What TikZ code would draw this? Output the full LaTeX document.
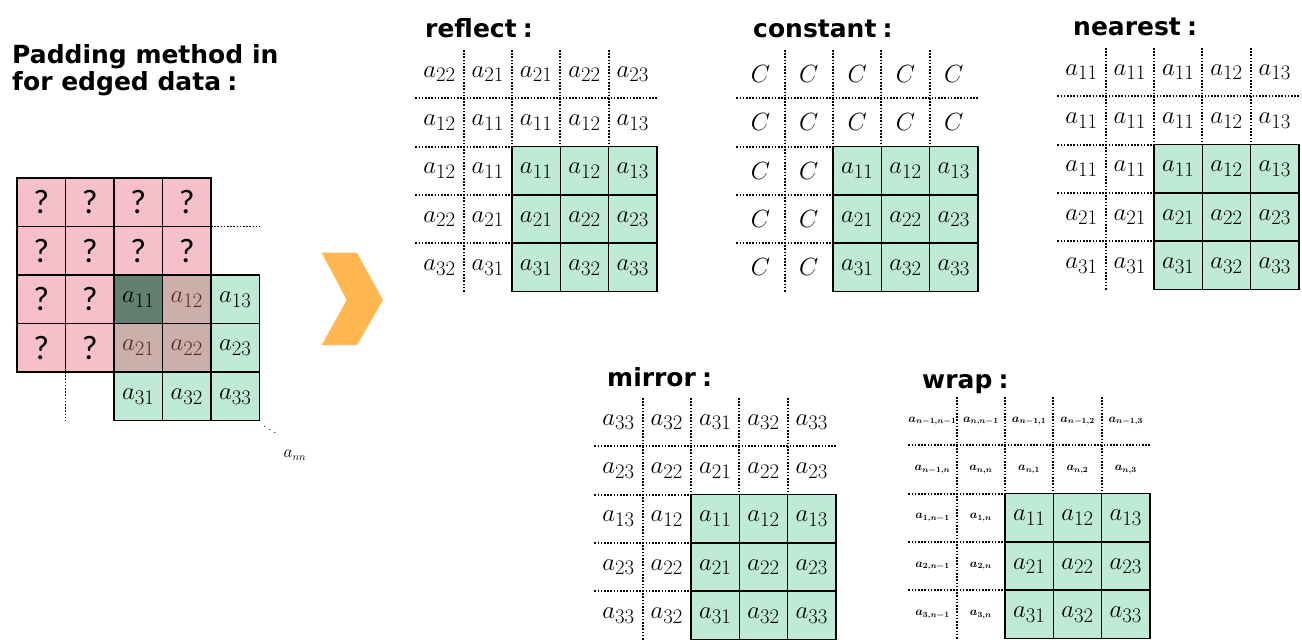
\documentclass[tikz,border=0pt]{standalone}
\usepackage{fontspec}
\usepackage{amsmath}
\newfontfamily\headfont{DejaVu Sans}
\newfontfamily\askfont{Carlito}

\definecolor{cellgreen}{RGB}{190,234,214}
\definecolor{cellpink}{RGB}{246,192,202}
\definecolor{darkcell}{RGB}{98,128,111}
\definecolor{browncell}{RGB}{203,175,171}
\definecolor{browntext}{RGB}{92,42,44}
\definecolor{chevron}{RGB}{255,184,80}

\def\cellsz{48.3}

\tikzset{
  headline/.style={anchor=base west, inner sep=0pt,
    font=\headfont\bfseries\fontsize{25}{28}\selectfont},
  padlabel/.style={inner sep=0pt},
  greencell/.style={draw, line width=1.6pt, fill=cellgreen,
    minimum size=\cellsz pt, inner sep=0pt,
    font=\fontsize{28}{30}\selectfont},
  pcell/.style={draw, line width=1.6pt, minimum size=48.5pt, inner sep=0pt,
    font=\askfont\fontsize{34}{36}\selectfont},
  dotline/.style={line width=1.8pt, dash pattern=on 1.6pt off 1.6pt},
}

% #1 name, #2 x0, #3 y0, #4 font of the padded values, #5 padded values
\newcommand{\padpanel}[5]{%
  \draw[dotline] (#2+\cellsz,#3) -- (#2+\cellsz,#3+5*\cellsz);
  \foreach \k in {2,3,4}
    \draw[dotline] (#2+\k*\cellsz,#3) -- (#2+\k*\cellsz,#3+2*\cellsz);
  \draw[dotline] (#2,#3+\cellsz) -- (#2+5*\cellsz,#3+\cellsz);
  \foreach \k in {2,3,4}
    \draw[dotline] (#2,#3+\k*\cellsz) -- (#2+2*\cellsz,#3+\k*\cellsz);
  \foreach \lab [count=\i from 0] in {#5} {
    \pgfmathtruncatemacro\r{\i<10 ? int(\i/5) : 2+int((\i-10)/2)}
    \pgfmathtruncatemacro\c{\i<10 ? mod(\i,5) : mod(\i-10,2)}
    \node[padlabel, font=#4] (#1-\r\c)
      at ({#2+(\c+0.5)*\cellsz},{#3+(\r+0.5)*\cellsz}) {$\lab$};
  }
  \foreach \r in {1,2,3}
    \foreach \c in {1,2,3}
      \node[greencell] (#1-g\r\c)
        at ({#2+(\c+1.5)*\cellsz},{#3+(\r+1.5)*\cellsz}) {$a_{\r\c}$};
}

\begin{document}
\begin{tikzpicture}[x=1pt,y=-1pt]
  \useasboundingbox (0,0) rectangle (1302,640);

  \def\lx{17}
  \def\ly{178}
  \def\lc{48.5}
  \def\big{\fontsize{28}{30}\selectfont}
  \def\small{\fontsize{12}{14}\selectfont\boldmath}

  \node[headline] (head1) at (12,63) {Padding method in};
  \node[headline] (head2) at (12,90) {for edged data\hspace{.25em}:};

  \draw[dotline] (\lx+4*\lc,\ly+\lc) -- (\lx+5*\lc,\ly+\lc);
  \draw[dotline] (\lx+\lc,\ly+4*\lc) -- (\lx+\lc,\ly+5*\lc);

  \foreach \r in {0,1}
    \foreach \c in {0,...,3}
      \node[pcell, fill=cellpink] (in-\r\c)
        at ({\lx+(\c+0.5)*\lc},{\ly+(\r+0.5)*\lc}) {?};
  \foreach \r in {2,3}
    \foreach \c in {0,1}
      \node[pcell, fill=cellpink] (in-\r\c)
        at ({\lx+(\c+0.5)*\lc},{\ly+(\r+0.5)*\lc}) {?};

  \node[pcell, fill=darkcell, font=\big] (in-22)
    at ({\lx+2.5*\lc},{\ly+2.5*\lc}) {$a_{11}$};
  \node[pcell, fill=browncell, font=\big, text=browntext] (in-23)
    at ({\lx+3.5*\lc},{\ly+2.5*\lc}) {$a_{12}$};
  \node[pcell, fill=browncell, font=\big, text=browntext] (in-32)
    at ({\lx+2.5*\lc},{\ly+3.5*\lc}) {$a_{21}$};
  \node[pcell, fill=browncell, font=\big, text=browntext] (in-33)
    at ({\lx+3.5*\lc},{\ly+3.5*\lc}) {$a_{22}$};
  \node[pcell, fill=cellgreen, font=\big] (in-24)
    at ({\lx+4.5*\lc},{\ly+2.5*\lc}) {$a_{13}$};
  \node[pcell, fill=cellgreen, font=\big] (in-34)
    at ({\lx+4.5*\lc},{\ly+3.5*\lc}) {$a_{23}$};
  \foreach \c/\j in {2/1,3/2,4/3}
    \node[pcell, fill=cellgreen, font=\big] (in-4\c)
      at ({\lx+(\c+0.5)*\lc},{\ly+4.5*\lc}) {$a_{3\j}$};

  \node[inner sep=0pt, font=\fontsize{13}{15}\selectfont] (dots) at (270,427) {$\ddots$};
  \node[inner sep=0pt, font=\fontsize{16}{18}\selectfont] (ann) at (295,455) {$a_{nn}$};

  \fill[chevron] (321.7,252.7) -- (357,252.7) -- (383,300) -- (357,345)
    -- (321.7,345) -- (346.7,300) -- cycle;

  \node[headline] (reflect) at (425,37) {reflect\hspace{.25em}:};
  \padpanel{rf}{415.4}{50}{\big}{a_{22},a_{21},a_{21},a_{22},a_{23},
    a_{12},a_{11},a_{11},a_{12},a_{13},
    a_{12},a_{11},a_{22},a_{21},a_{32},a_{31}}

  \node[headline] (constant) at (753,37) {constant\hspace{.25em}:};
  \padpanel{ct}{736.4}{50}{\big}{C,C,C,C,C,C,C,C,C,C,C,C,C,C,C,C}

  \node[headline] (nearest) at (1073,35) {nearest\hspace{.25em}:};
  \padpanel{nr}{1057.4}{48}{\big}{a_{11},a_{11},a_{11},a_{12},a_{13},
    a_{11},a_{11},a_{11},a_{12},a_{13},
    a_{11},a_{11},a_{21},a_{21},a_{31},a_{31}}

  \node[headline] (mirror) at (607,386) {mirror\hspace{.25em}:};
  \padpanel{mr}{594.4}{398}{\big}{a_{33},a_{32},a_{31},a_{32},a_{33},
    a_{23},a_{22},a_{21},a_{22},a_{23},
    a_{13},a_{12},a_{23},a_{22},a_{33},a_{32}}

  \node[headline] (wrap) at (922,388) {wrap\hspace{.25em}:};
  \padpanel{wr}{908.4}{397}{\small}{{a_{n-1,n-1}},{a_{n,n-1}},{a_{n-1,1}},{a_{n-1,2}},{a_{n-1,3}},
    {a_{n-1,n}},{a_{n,n}},{a_{n,1}},{a_{n,2}},{a_{n,3}},
    {a_{1,n-1}},{a_{1,n}},{a_{2,n-1}},{a_{2,n}},{a_{3,n-1}},{a_{3,n}}}
\end{tikzpicture}
\end{document}
